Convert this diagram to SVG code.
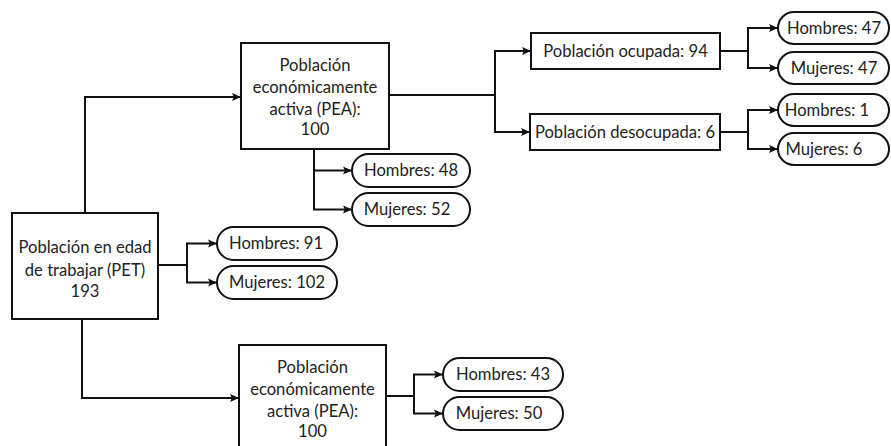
<svg xmlns="http://www.w3.org/2000/svg" width="891" height="446" viewBox="0 0 891 446">
<defs>
<marker id="ah" viewBox="0 0 10 10" refX="10" refY="5" markerWidth="9" markerHeight="9" markerUnits="userSpaceOnUse" orient="auto">
<path d="M0,0.5 L10,5 L0,9.5 L2,5 z" fill="#111"/>
</marker>
<style>
.box{fill:#fff;stroke:#111;stroke-width:2}
.pill{fill:#fff;stroke:#111;stroke-width:2}
text{font-family:Lato,"Open Sans","Liberation Sans",sans-serif;font-size:16.6px;fill:#222;text-anchor:middle}
.c{fill:none;stroke:#111;stroke-width:2}
.a{fill:none;stroke:#111;stroke-width:2;marker-end:url(#ah)}
</style>
</defs>
<rect width="891" height="446" fill="#fff"/>
<g id="connectors">
<path class="a" d="M85,213 V97 H241"/>
<path class="a" d="M82,319 V398 H239"/>
<path class="c" d="M389,95 H495"/>
<path class="a" d="M495,95 V51 H531"/>
<path class="a" d="M495,95 V132 H530"/>
<path class="c" d="M720,51 H748"/>
<path class="a" d="M748,51 V28 H778"/>
<path class="a" d="M748,51 V68 H778"/>
<path class="c" d="M720,132 H748"/>
<path class="a" d="M748,132 V110 H778"/>
<path class="a" d="M748,132 V149 H778"/>
<path class="a" d="M314,149 V170.5 H352"/>
<path class="a" d="M314,170 V209.5 H352"/>
<path class="c" d="M158,265 H187"/>
<path class="a" d="M187,265 V243.5 H217"/>
<path class="a" d="M187,265 V282.5 H217"/>
<path class="c" d="M386,396 H414"/>
<path class="a" d="M414,396 V374.5 H443"/>
<path class="a" d="M414,396 V413.5 H443"/>
</g>
<g id="pet">
<rect class="box" x="12" y="213" width="146" height="106"/>
<text x="85" y="253">Población en edad</text>
<text x="85" y="276">de trabajar (PET)</text>
<text x="85" y="297">193</text>
</g>
<g id="pea1">
<rect class="box" x="241" y="43" width="148" height="106"/>
<text x="315" y="71">Población</text>
<text x="315" y="93">económicamente</text>
<text x="315" y="115">activa (PEA):</text>
<text x="315" y="135">100</text>
</g>
<g id="pea2">
<rect class="box" x="239" y="345" width="147" height="106"/>
<text x="312.5" y="373">Población</text>
<text x="312.5" y="395">económicamente</text>
<text x="312.5" y="417">activa (PEA):</text>
<text x="312.5" y="437">100</text>
</g>
<g id="ocupada">
<rect class="box" x="531" y="33" width="189" height="36"/>
<text x="625.5" y="57">Población ocupada: 94</text>
</g>
<g id="desocupada">
<rect class="box" x="530" y="114" width="190" height="36"/>
<text x="625" y="138">Población desocupada: 6</text>
</g>
<g id="h47"><rect class="pill" x="778" y="12" width="111" height="32" rx="16"/><text x="834" y="34">Hombres: 47</text></g>
<g id="m47"><rect class="pill" x="778" y="52" width="111" height="32" rx="16"/><text x="834" y="74">Mujeres: 47</text></g>
<g id="h1"><rect class="pill" x="778" y="94" width="111" height="32" rx="16"/><text x="827" y="116">Hombres: 1</text></g>
<g id="m6"><rect class="pill" x="778" y="133" width="111" height="32" rx="16"/><text x="824" y="155">Mujeres: 6</text></g>
<g id="h48"><rect class="pill" x="352" y="154" width="118" height="33" rx="16.5"/><text x="411" y="176">Hombres: 48</text></g>
<g id="m52"><rect class="pill" x="352" y="193" width="118" height="33" rx="16.5"/><text x="407" y="215">Mujeres: 52</text></g>
<g id="h91"><rect class="pill" x="217" y="227" width="120" height="33" rx="16.5"/><text x="276" y="249">Hombres: 91</text></g>
<g id="m102"><rect class="pill" x="217" y="266" width="120" height="33" rx="16.5"/><text x="277" y="288">Mujeres: 102</text></g>
<g id="h43"><rect class="pill" x="443" y="358" width="120" height="33" rx="16.5"/><text x="503" y="380">Hombres: 43</text></g>
<g id="m50"><rect class="pill" x="443" y="397" width="120" height="33" rx="16.5"/><text x="499" y="419">Mujeres: 50</text></g>
</svg>
